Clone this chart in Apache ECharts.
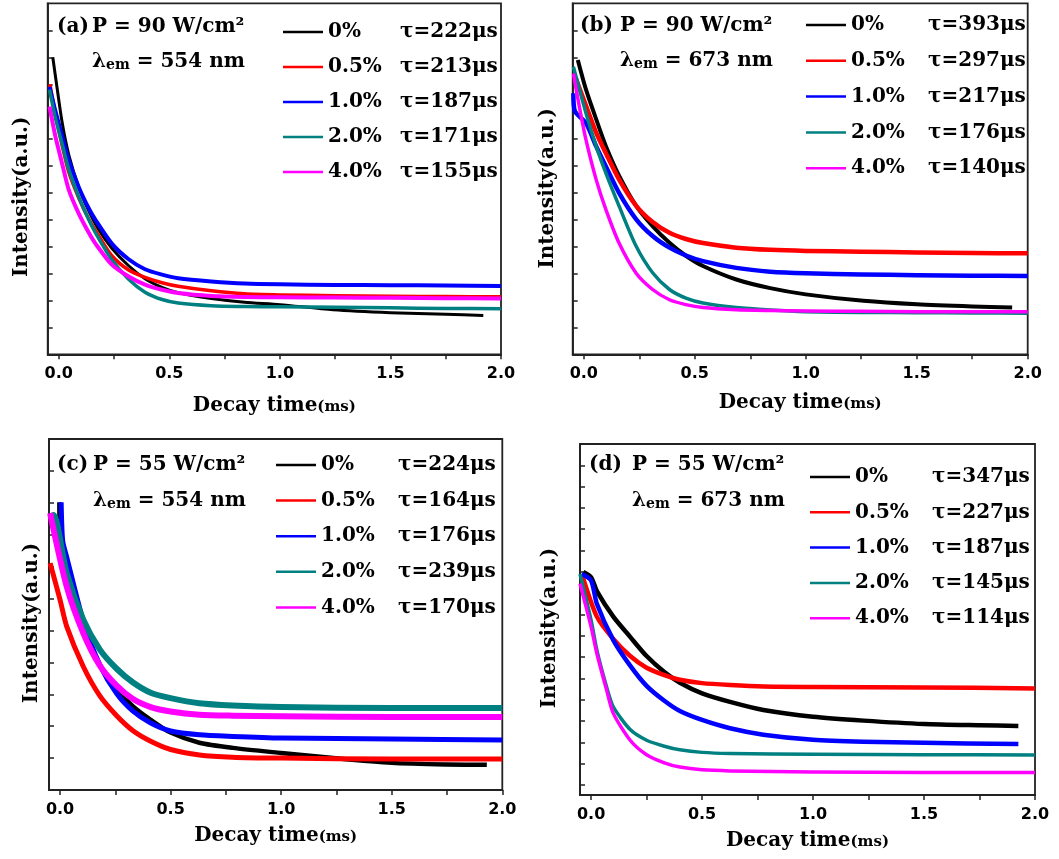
<!DOCTYPE html>
<html><head><meta charset="utf-8">
<script src="https://cdn.jsdelivr.net/npm/echarts@6/dist/echarts.min.js"></script>
<style>
html,body{margin:0;padding:0;background:#fff;width:1059px;height:859px;overflow:hidden}
.c{position:absolute;left:0;top:0;width:1059px;height:859px}
</style>
</head><body>
<div id="pa" class="c"></div>
<div id="pb" class="c"></div>
<div id="pc" class="c"></div>
<div id="pd" class="c"></div>
<script>
// ---------- categories / labels ----------
const dopings = ['0%', '0.5%', '1.0%', '2.0%', '4.0%'];
const tauA = ['222μs', '213μs', '187μs', '171μs', '155μs'];
const tauB = ['393μs', '297μs', '217μs', '176μs', '140μs'];
const tauC = ['224μs', '164μs', '176μs', '239μs', '170μs'];
const tauD = ['347μs', '227μs', '187μs', '145μs', '114μs'];
const xTickValues = [0, 0.25, 0.5, 0.75, 1.0, 1.25, 1.5, 1.75, 2.0];
const xLabelValues = [0, 0.5, 1.0, 1.5, 2.0];

// ---------- panel (a): P = 90 W/cm2, 554 nm ----------
const A_t0 = [-0.027, -0.015, 0.015, 0.045, 0.09, 0.136, 0.18, 0.24, 0.316, 0.39, 0.467, 0.54, 0.69, 0.84, 1.0, 1.24, 1.5, 1.75, 1.92];
const A_i0 = [11.0, 10.3, 8.6, 7.4, 6.2, 5.3, 4.62, 3.93, 3.28, 2.8, 2.48, 2.28, 2.07, 1.93, 1.84, 1.65, 1.54, 1.48, 1.44];
const A_t1 = [-0.04, -0.015, 0.015, 0.045, 0.09, 0.136, 0.18, 0.24, 0.316, 0.39, 0.467, 0.54, 0.69, 0.84, 1.0, 1.25, 1.5, 1.75, 2.0];
const A_i1 = [10.0, 8.9, 7.75, 6.75, 5.8, 5.0, 4.4, 3.65, 3.12, 2.85, 2.65, 2.52, 2.35, 2.24, 2.2, 2.17, 2.15, 2.14, 2.13];
const A_t2 = [-0.042, -0.015, 0.015, 0.045, 0.09, 0.136, 0.166, 0.24, 0.316, 0.39, 0.467, 0.54, 0.69, 0.84, 1.0, 1.25, 1.5, 1.75, 2.0];
const A_i2 = [9.9, 9.0, 8.1, 7.2, 6.2, 5.4, 4.98, 4.1, 3.52, 3.15, 2.95, 2.82, 2.7, 2.62, 2.59, 2.57, 2.56, 2.55, 2.53];
const A_t3 = [-0.042, -0.015, 0.015, 0.045, 0.09, 0.136, 0.166, 0.24, 0.316, 0.39, 0.467, 0.54, 0.69, 0.84, 1.0, 1.25, 1.5, 1.75, 2.0];
const A_i3 = [9.8, 8.75, 7.8, 6.85, 5.84, 4.98, 4.5, 3.5, 2.78, 2.3, 2.03, 1.9, 1.8, 1.77, 1.76, 1.74, 1.72, 1.7, 1.69];
const A_t4 = [-0.042, -0.015, 0.015, 0.045, 0.09, 0.136, 0.166, 0.24, 0.316, 0.39, 0.467, 0.54, 0.69, 0.84, 1.0, 1.25, 1.5, 1.75, 2.0];
const A_i4 = [9.17, 8.06, 7.07, 6.1, 5.22, 4.5, 4.1, 3.32, 2.88, 2.58, 2.39, 2.27, 2.16, 2.12, 2.11, 2.1, 2.09, 2.08, 2.07];

// ---------- panel (b): P = 90 W/cm2, 673 nm ----------
const B_t0 = [-0.027, 0.01, 0.056, 0.1, 0.16, 0.236, 0.31, 0.386, 0.46, 0.537, 0.687, 0.84, 1.0, 1.26, 1.5, 1.75, 1.93];
const B_i0 = [10.9, 9.8, 8.7, 7.7, 6.6, 5.5, 4.75, 4.13, 3.65, 3.27, 2.77, 2.45, 2.22, 1.98, 1.85, 1.77, 1.73];
const B_t1 = [-0.035, 0.01, 0.056, 0.1, 0.16, 0.236, 0.31, 0.386, 0.46, 0.537, 0.687, 0.84, 1.0, 1.25, 1.5, 1.75, 2.0];
const B_i1 = [10.2, 9.2, 8.2, 7.44, 6.46, 5.5, 4.9, 4.5, 4.27, 4.12, 3.95, 3.87, 3.83, 3.8, 3.77, 3.75, 3.74];
const B_t2 = [-0.047, -0.04, 0.01, 0.056, 0.1, 0.16, 0.236, 0.31, 0.386, 0.46, 0.537, 0.687, 0.84, 1.0, 1.25, 1.5, 1.75, 2.0];
const B_i2 = [9.67, 9.0, 8.56, 7.7, 6.95, 5.96, 5.0, 4.38, 3.95, 3.66, 3.45, 3.2, 3.06, 3.0, 2.96, 2.93, 2.91, 2.9];
const B_t3 = [-0.047, 0.01, 0.056, 0.1, 0.16, 0.236, 0.31, 0.386, 0.46, 0.537, 0.687, 0.84, 1.0, 1.25, 1.5, 1.75, 2.0];
const B_i3 = [10.65, 8.93, 7.7, 6.7, 5.47, 4.0, 3.02, 2.4, 2.08, 1.9, 1.73, 1.64, 1.58, 1.55, 1.54, 1.53, 1.52];
const B_t4 = [-0.047, -0.02, 0.01, 0.056, 0.1, 0.16, 0.236, 0.31, 0.386, 0.46, 0.537, 0.687, 0.84, 1.0, 1.25, 1.5, 1.75, 2.0];
const B_i4 = [10.4, 9.17, 7.94, 6.46, 5.35, 4.1, 3.0, 2.4, 2.02, 1.84, 1.73, 1.65, 1.62, 1.6, 1.59, 1.58, 1.58, 1.58];

// ---------- panel (c): P = 55 W/cm2, 554 nm ----------
const C_t0 = [-0.003, 0.0, 0.03, 0.105, 0.18, 0.256, 0.33, 0.41, 0.5, 0.63, 0.78, 1.0, 1.235, 1.5, 1.75, 1.93];
const C_i0 = [9.02, 7.5, 7.0, 5.13, 3.9, 3.15, 2.62, 2.2, 1.8, 1.48, 1.32, 1.16, 1.0, 0.85, 0.8, 0.79];
const C_t1 = [-0.045, 0.0, 0.03, 0.105, 0.18, 0.256, 0.33, 0.41, 0.5, 0.63, 0.78, 1.0, 1.5, 2.0];
const C_i1 = [7.11, 5.96, 5.13, 3.87, 2.95, 2.33, 1.86, 1.53, 1.27, 1.1, 1.03, 1.0, 0.97, 0.97];
const C_t2 = [0.005, 0.012, 0.03, 0.105, 0.18, 0.256, 0.33, 0.41, 0.5, 0.63, 0.78, 1.0, 1.5, 2.0];
const C_i2 = [9.02, 7.8, 7.3, 5.3, 3.92, 3.02, 2.47, 2.1, 1.85, 1.73, 1.68, 1.63, 1.6, 1.57];
const C_t3 = [-0.045, -0.03, 0.03, 0.105, 0.18, 0.256, 0.33, 0.41, 0.5, 0.63, 0.78, 1.0, 1.5, 2.0];
const C_i3 = [8.58, 8.62, 6.8, 5.34, 4.4, 3.8, 3.37, 3.05, 2.88, 2.72, 2.65, 2.6, 2.57, 2.57];
const C_t4 = [-0.045, 0.03, 0.105, 0.18, 0.256, 0.33, 0.41, 0.5, 0.63, 0.78, 1.0, 1.5, 2.0];
const C_i4 = [8.68, 6.38, 4.92, 3.9, 3.27, 2.85, 2.6, 2.46, 2.36, 2.33, 2.31, 2.29, 2.29];

// ---------- panel (d): P = 55 W/cm2, 673 nm ----------
const D_t0 = [-0.035, 0.0, 0.026, 0.1, 0.176, 0.25, 0.33, 0.4, 0.5, 0.626, 0.776, 1.0, 1.227, 1.5, 1.75, 1.925];
const D_i0 = [10.0, 9.75, 9.1, 7.9, 6.95, 6.05, 5.3, 4.8, 4.3, 3.9, 3.52, 3.2, 3.02, 2.86, 2.8, 2.77];
const D_t1 = [-0.042, 0.026, 0.1, 0.176, 0.25, 0.33, 0.4, 0.5, 0.626, 0.776, 1.0, 1.5, 2.0];
const D_i1 = [9.9, 7.9, 6.85, 6.05, 5.5, 5.16, 4.94, 4.78, 4.69, 4.62, 4.6, 4.58, 4.53];
const D_t2 = [-0.042, 0.0, 0.026, 0.1, 0.176, 0.25, 0.33, 0.4, 0.5, 0.626, 0.776, 1.0, 1.227, 1.5, 1.925];
const D_i2 = [9.9, 9.6, 8.5, 6.8, 5.6, 4.65, 3.95, 3.47, 3.05, 2.66, 2.36, 2.12, 2.03, 1.98, 1.92];
const D_t3 = [-0.05, 0.0, 0.026, 0.07, 0.1, 0.176, 0.25, 0.33, 0.4, 0.5, 0.626, 1.0, 1.5, 2.0];
const D_i3 = [9.9, 7.73, 6.33, 4.6, 3.67, 2.6, 2.1, 1.82, 1.65, 1.53, 1.48, 1.44, 1.42, 1.41];
const D_t4 = [-0.05, 0.0, 0.026, 0.07, 0.1, 0.176, 0.25, 0.33, 0.4, 0.5, 0.626, 1.0, 1.5, 2.0];
const D_i4 = [9.45, 7.42, 6.17, 4.45, 3.36, 2.1, 1.42, 1.04, 0.84, 0.71, 0.66, 0.61, 0.59, 0.58];

// ---------- styling / layout (not data) ----------
const colors = ['#000000', '#ff0000', '#0000ff', '#008080', '#ff00ff'];
const SERIF = '"DejaVu Serif", serif';
const SANS = '"DejaVu Sans", sans-serif';

function pairs(t, v) { return t.map((x, i) => [x, v[i]]); }

const panels = [
  {
    id: 'pa', tag: '(a)', power: 'P = 90 W/cm²', wl: ' = 554 nm', tau: tauA,
    series: [[A_t0, A_i0], [A_t1, A_i1], [A_t2, A_i2], [A_t3, A_i3], [A_t4, A_i4]],
    widths: [3, 3.5, 4, 3.5, 4],
    grid: { left: 47.7, top: 3.3, width: 453.3, height: 351 },
    y: { min: 0, max: 13, ticks: [1,2,3,4,5,6,7,8,9,10,11,12] },
    tagPos: [57, 27], powPos: [92, 27], wlPos: [92, 62],
    legend: { left: 283, top: 20, gap: 11, pw: 72 },
    xNameGap: 41, yNameGap: 16, yShift: 36
  },
  {
    id: 'pb', tag: '(b)', power: 'P = 90 W/cm²', wl: ' = 673 nm', tau: tauB,
    series: [[B_t0, B_i0], [B_t1, B_i1], [B_t2, B_i2], [B_t3, B_i3], [B_t4, B_i4]],
    widths: [4, 4.5, 4.5, 3.5, 3.5],
    grid: { left: 572.7, top: 3.3, width: 455, height: 351 },
    y: { min: 0, max: 13, ticks: [1,2,3,4,5,6,7,8,9,10,11,12] },
    tagPos: [580, 26], powPos: [620, 26], wlPos: [620, 61],
    legend: { left: 806, top: 13, gap: 11.8, pw: 77 },
    xNameGap: 38, yNameGap: 15, yShift: 19
  },
  {
    id: 'pc', tag: '(c)', power: 'P = 55 W/cm²', wl: ' = 554 nm', tau: tauC,
    series: [[C_t0, C_i0], [C_t1, C_i1], [C_t2, C_i2], [C_t3, C_i3], [C_t4, C_i4]],
    widths: [4.5, 5, 5, 6, 6],
    grid: { left: 49, top: 439, width: 453.3, height: 351 },
    y: { min: 0, max: 11, ticks: [1,2,3,4,5,6,7,8,9,10] },
    tagPos: [57, 465], powPos: [93, 465], wlPos: [93, 501],
    legend: { left: 276, top: 453, gap: 11.6, pw: 77 },
    xNameGap: 36, yNameGap: 7, yShift: 17
  },
  {
    id: 'pd', tag: '(d)', power: 'P = 55 W/cm²', wl: ' = 673 nm', tau: tauD,
    series: [[D_t0, D_i0], [D_t1, D_i1], [D_t2, D_i2], [D_t3, D_i3], [D_t4, D_i4]],
    widths: [4.5, 4.5, 4.5, 3.5, 3.5],
    grid: { left: 580, top: 444, width: 455, height: 351 },
    y: { min: -0.47, max: 16, ticks: [0,1,2,3,4,5,6,7,8,9,10,11,12,13,14,15] },
    tagPos: [589, 465], powPos: [632, 465], wlPos: [632, 501],
    legend: { left: 810, top: 465, gap: 11.3, pw: 77 },
    xNameGap: 36, yNameGap: 20, yShift: 17
  }
];

panels.forEach(p => {
  const chart = echarts.init(document.getElementById(p.id), null, { renderer: 'canvas' });
  const option = {
    backgroundColor: 'transparent',
    animation: false,
    grid: Object.assign({ show: true, borderColor: '#222', borderWidth: 1.8, backgroundColor: 'transparent', containLabel: false }, p.grid),
    legend: {
      left: p.legend.left, top: p.legend.top, orient: 'vertical',
      itemGap: p.legend.gap, itemWidth: 40, itemHeight: 2.5, icon: 'rect', padding: 0,
      data: dopings,
      formatter: name => '{p|' + name + '}{t|τ=' + p.tau[dopings.indexOf(name)] + '}',
      textStyle: {
        rich: {
          p: { width: p.legend.pw, fontFamily: SERIF, fontWeight: 'bold', fontSize: 20, color: '#000', lineHeight: 24, height: 24 },
          t: { fontFamily: SERIF, fontWeight: 'bold', fontSize: 20, color: '#000', lineHeight: 24, height: 24 }
        }
      }
    },
    xAxis: {
      type: 'value', min: -0.05, max: 2.0,
      axisLine: { show: true, onZero: false, lineStyle: { color: '#222', width: 1.8 } },
      axisTick: { show: true, inside: false, length: 5, customValues: xTickValues, lineStyle: { color: '#222', width: 1.5 } },
      axisLabel: { show: true, customValues: xLabelValues, formatter: v => v.toFixed(1), margin: 12,
        fontFamily: SANS, fontWeight: 'bold', fontSize: 16, color: '#000' },
      splitLine: { show: false },
      name: '{a|Decay time}{b|(ms)}', nameLocation: 'middle', nameGap: p.xNameGap,
      nameTextStyle: { rich: {
        a: { fontFamily: SERIF, fontWeight: 'bold', fontSize: 20, color: '#000' },
        b: { fontFamily: SERIF, fontWeight: 'bold', fontSize: 15, color: '#000', padding: [3, 0, 0, 0] }
      } }
    },
    yAxis: {
      type: 'value', min: p.y.min, max: p.y.max,
      axisLine: { show: true, onZero: false, lineStyle: { color: '#222', width: 1.8 } },
      axisTick: { show: true, inside: true, length: 5, customValues: p.y.ticks, lineStyle: { color: '#222', width: 1.5 } },
      axisLabel: { show: false },
      splitLine: { show: false },
      name: 'Intensity(a.u.)', nameLocation: 'middle', nameGap: p.yNameGap, nameRotate: 90,
      nameTextStyle: { fontFamily: SERIF, fontWeight: 'bold', fontSize: 20, color: '#000', padding: [0, p.yShift, 0, 0] }
    },
    series: p.series.map((s, i) => ({
      name: dopings[i], type: 'line', data: pairs(s[0], s[1]),
      showSymbol: false, symbol: 'none', smooth: 0.25,
      color: colors[i],
      lineStyle: { color: colors[i], width: p.widths[i], join: 'round' },
      z: 2 + i
    })),
    graphic: [
      { type: 'text', x: p.tagPos[0], y: p.tagPos[1], style: { text: p.tag, fill: '#000', font: 'bold 20px ' + SERIF, textVerticalAlign: 'middle', textAlign: 'left' } },
      { type: 'text', x: p.powPos[0], y: p.powPos[1], style: { text: p.power, fill: '#000', font: 'bold 20px ' + SERIF, textVerticalAlign: 'middle', textAlign: 'left' } },
      { type: 'text', x: p.wlPos[0], y: p.wlPos[1], style: {
          text: '{l|λ}{s|em}{n|' + p.wl + '}', textVerticalAlign: 'middle', textAlign: 'left',
          rich: {
            l: { fontFamily: SERIF, fontWeight: 'bold', fontSize: 20, fill: '#000', color: '#000' },
            s: { fontFamily: SERIF, fontWeight: 'bold', fontSize: 14, fill: '#000', color: '#000', padding: [6, 0, 0, 0] },
            n: { fontFamily: SERIF, fontWeight: 'bold', fontSize: 20, fill: '#000', color: '#000' }
          }
      } }
    ]
  };
  chart.setOption(option);
});
</script>
</body></html>
